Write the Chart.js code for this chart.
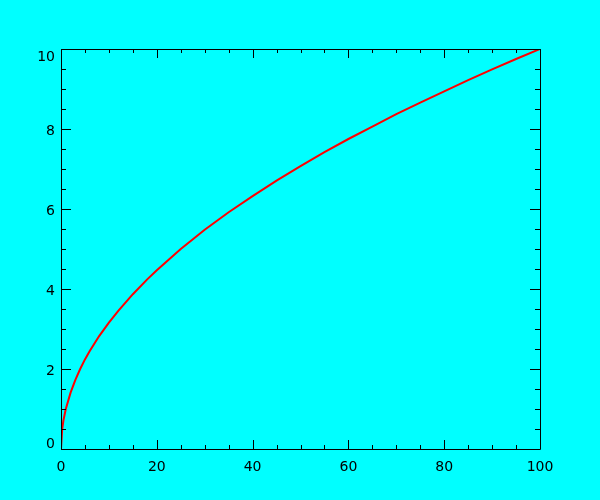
<!DOCTYPE html>
<html>
<head>
<meta charset="utf-8">
<script src="https://cdn.jsdelivr.net/npm/chart.js@4/dist/chart.umd.min.js"></script>
<style>
  html, body { margin: 0; padding: 0; background: #00ffff; }
  #wrap { width: 600px; height: 500px; }
</style>
</head>
<body>
<div id="wrap"><canvas id="chart" width="600" height="500"></canvas></div>
<script>
// values
const xValues = [0, 0.25, 0.5, 1, 2, 3, 4, 5, 6, 8, 10, 12, 15, 18, 20, 25, 30, 35, 40, 45, 50, 55, 60, 65, 70, 75, 80, 85, 90, 95, 100];
const yValues = [0, 0.5, 0.71, 1.0, 1.41, 1.73, 2.0, 2.24, 2.45, 2.83, 3.16, 3.46, 3.87, 4.24, 4.47, 5.0, 5.48, 5.92, 6.32, 6.71, 7.07, 7.42, 7.75, 8.06, 8.37, 8.66, 8.94, 9.22, 9.49, 9.75, 10.0];

// tick positions (major and minor) for the framed axes
const xMajorTicks = [0, 20, 40, 60, 80, 100];
const xMinorTicks = [5, 10, 15, 25, 30, 35, 45, 50, 55, 65, 70, 75, 85, 90, 95];
const yMajorTicks = [0, 2, 4, 6, 8, 10];
const yMinorTicks = [0.5, 1, 1.5, 2.5, 3, 3.5, 4.5, 5, 5.5, 6.5, 7, 7.5, 8.5, 9, 9.5];

const points = xValues.map((x, i) => ({ x: x, y: yValues[i] }));

// cyan page + box with inward ticks on all four sides
const frame = {
    id: 'frame',
    beforeDraw(chart) {
        const c = chart.ctx;
        c.save();
        c.fillStyle = '#00ffff';
        c.fillRect(0, 0, chart.width, chart.height);
        c.restore();
    },
    afterDatasetsDraw(chart) {
        const c = chart.ctx;
        const a = chart.chartArea;
        const xs = chart.scales.x, ys = chart.scales.y;
        c.save();
        c.strokeStyle = '#000';
        c.lineWidth = 1;
        c.beginPath();
        c.rect(Math.round(a.left) + 0.5, Math.round(a.top) + 0.5, Math.round(a.right - a.left), Math.round(a.bottom - a.top));
        const xTick = (v, len) => {
            const px = Math.round(xs.getPixelForValue(v)) + 0.5;
            c.moveTo(px, a.bottom); c.lineTo(px, a.bottom - len);
            c.moveTo(px, a.top); c.lineTo(px, a.top + len);
        };
        const yTick = (v, len) => {
            const py = Math.round(ys.getPixelForValue(v)) + 0.5;
            c.moveTo(a.left, py); c.lineTo(a.left + len, py);
            c.moveTo(a.right, py); c.lineTo(a.right - len, py);
        };
        xMajorTicks.forEach(v => xTick(v, 9));
        xMinorTicks.forEach(v => xTick(v, 4));
        yMajorTicks.forEach(v => yTick(v, 10));
        yMinorTicks.forEach(v => yTick(v, 5));
        c.stroke();
        c.restore();
    }
};

new Chart(document.getElementById('chart'), {
    type: 'scatter',
    data: {
        datasets: [{
            data: points,
            showLine: true,
            borderColor: '#ff0000',
            borderWidth: 2,
            pointRadius: 0,
            tension: 0
        }]
    },
    options: {
        responsive: false,
        animation: false,
        layout: { padding: { top: 49, right: 60, left: 0, bottom: 0 } },
        plugins: { legend: { display: false }, tooltip: { enabled: false } },
        scales: {
            x: {
                type: 'linear',
                min: 0, max: 100,
                grid: { display: false, drawTicks: false },
                border: { display: false },
                ticks: {
                    stepSize: 20,
                    padding: 10,
                    color: '#000',
                    maxRotation: 0,
                    font: { family: 'DejaVu Sans', size: 14 }
                },
                afterFit(scale) { scale.height = 51; }
            },
            y: {
                type: 'linear',
                min: 0, max: 10,
                grid: { display: false, drawTicks: false },
                border: { display: false },
                ticks: {
                    stepSize: 2,
                    padding: 6,
                    labelOffset: 2,
                    color: '#000',
                    font: { family: 'DejaVu Sans', size: 14, lineHeight: 0.95 },
                    // end labels sit inside the box, like the original
                    callback: (v) => v === 10 ? ['', '10'] : (v === 0 ? ['0', ''] : String(v))
                },
                afterFit(scale) { scale.width = 61; }
            }
        }
    },
    plugins: [frame]
});
</script>
</body>
</html>
